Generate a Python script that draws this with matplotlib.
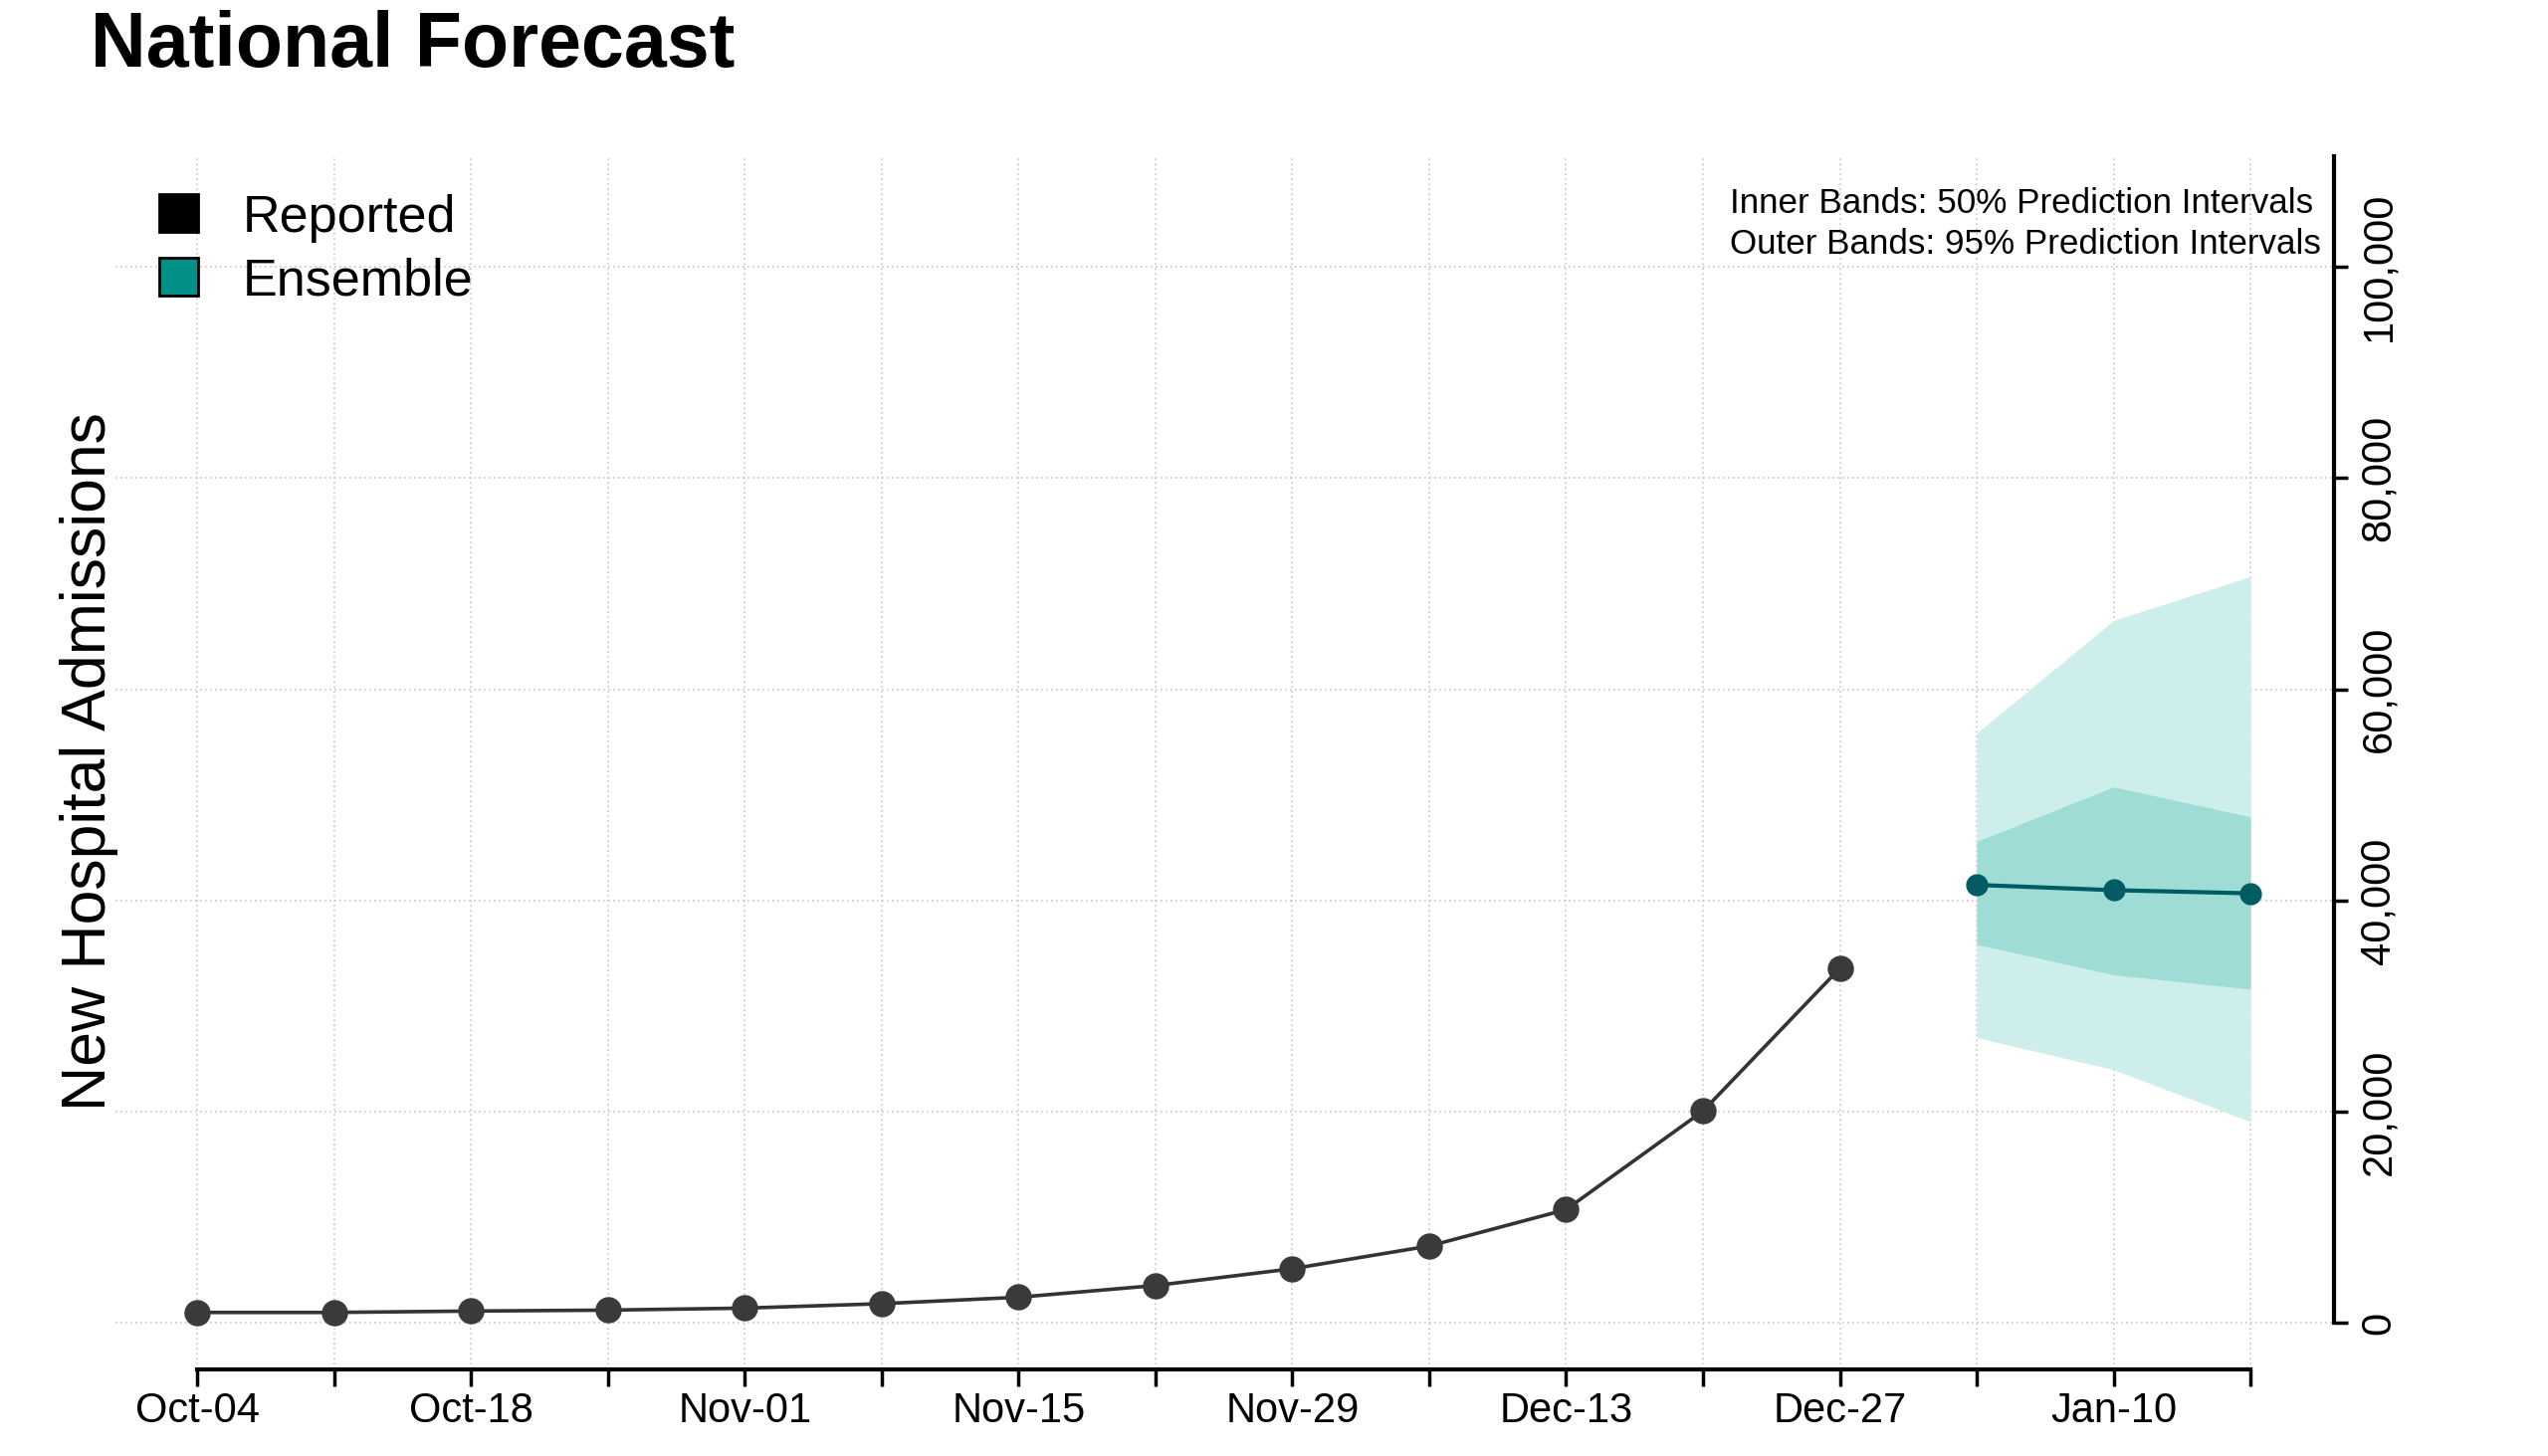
import pandas as pd
import matplotlib
matplotlib.use("Agg")
import matplotlib.pyplot as plt
import matplotlib.dates as mdates
from matplotlib.patches import Patch

plt.rcParams['font.family'] = ['Liberation Sans', 'DejaVu Sans']

# weekly dates on the x axis
weeks = pd.to_datetime([
    "2021-10-04", "2021-10-11", "2021-10-18", "2021-10-25",
    "2021-11-01", "2021-11-08", "2021-11-15", "2021-11-22",
    "2021-11-29", "2021-12-06", "2021-12-13", "2021-12-20",
    "2021-12-27", "2022-01-03", "2022-01-10", "2022-01-17",
])
reported_dates = weeks[:13]
forecast_dates = weeks[13:]

reported = [990, 990, 1120, 1210, 1400, 1820, 2430, 3540, 5130, 7280, 10730, 20060, 33580]

ens_median = [41480, 40980, 40680]
ens_q25 = [35850, 32970, 31610]
ens_q75 = [45590, 50760, 47920]
ens_q025 = [27030, 23980, 19070]
ens_q975 = [55850, 66530, 70680]

y_ticks = [0, 20000, 40000, 60000, 80000, 100000]

fig = plt.figure(figsize=(25.6, 14.63), dpi=100)
ax = fig.add_axes([0.0452, 0.0598, 0.8708, 0.833])

ax.fill_between(forecast_dates, ens_q025, ens_q975, color='#cdeeea', lw=0)
ax.fill_between(forecast_dates, ens_q25, ens_q75, color='#9edcd5', lw=0)

ax.plot(reported_dates, reported, color='#333333', lw=2.6, marker='o', ms=18,
        mfc='#3a3a3a', mec='#3a3a3a', zorder=4)
ax.plot(forecast_dates, ens_median, color='#005c63', lw=3, marker='o', ms=15,
        mfc='#005c63', mec='#005c63', zorder=4)

day = pd.Timedelta(days=1)
ax.set_xlim(weeks[0] - 4.2 * day, weeks[-1] + 4.27 * day)
ax.set_ylim(-4360, 110500)

ax.set_xticks(weeks)
ax.set_xticklabels([d.strftime('%b-%d') if i % 2 == 0 else '' for i, d in enumerate(weeks)])
ax.set_yticks(y_ticks)
ax.set_yticklabels([f'{v:,}' for v in y_ticks], rotation=90, va='center')

ax.yaxis.tick_right()
ax.spines['left'].set_visible(False)
ax.spines['top'].set_visible(False)
ax.spines['bottom'].set_bounds(mdates.date2num(weeks[0]), mdates.date2num(weeks[-1]))
ax.spines['right'].set_bounds(0, 110500)
for s in ('bottom', 'right'):
    ax.spines[s].set_linewidth(3)

ax.tick_params(axis='x', length=12, width=2.5, labelsize=30, pad=4)
ax.tick_params(axis='y', length=10, width=2.5, labelsize=30, pad=8)

ax.grid(True, color='#c8c8c8', linestyle=(0, (1, 2)), lw=1.2)
ax.set_axisbelow(True)

fig.text(0.0355, 0.954, 'National Forecast', fontsize=55.5, fontweight='bold',
         ha='left', va='baseline')
fig.text(0.035, 0.477, 'New Hospital Admissions', fontsize=45, rotation=90,
         ha='center', va='center')

fig.text(0.679, 0.860, 'Inner Bands: 50% Prediction Intervals', fontsize=25.2,
         ha='left', va='center')
fig.text(0.679, 0.832, 'Outer Bands: 95% Prediction Intervals', fontsize=25.2,
         ha='left', va='center')

handles = [Patch(facecolor='black', edgecolor='black', lw=2),
           Patch(facecolor='#009088', edgecolor='black', lw=2)]
ax.legend(handles, ['Reported', 'Ensemble'], loc='upper left',
          bbox_to_anchor=(0.0626, 0.867), bbox_transform=fig.transFigure,
          frameon=False, fontsize=37.5, handlelength=0.75, handleheight=0.75,
          handletextpad=0.85, labelspacing=0.28, borderpad=0, borderaxespad=0)

fig.savefig('out.png', dpi=100)
